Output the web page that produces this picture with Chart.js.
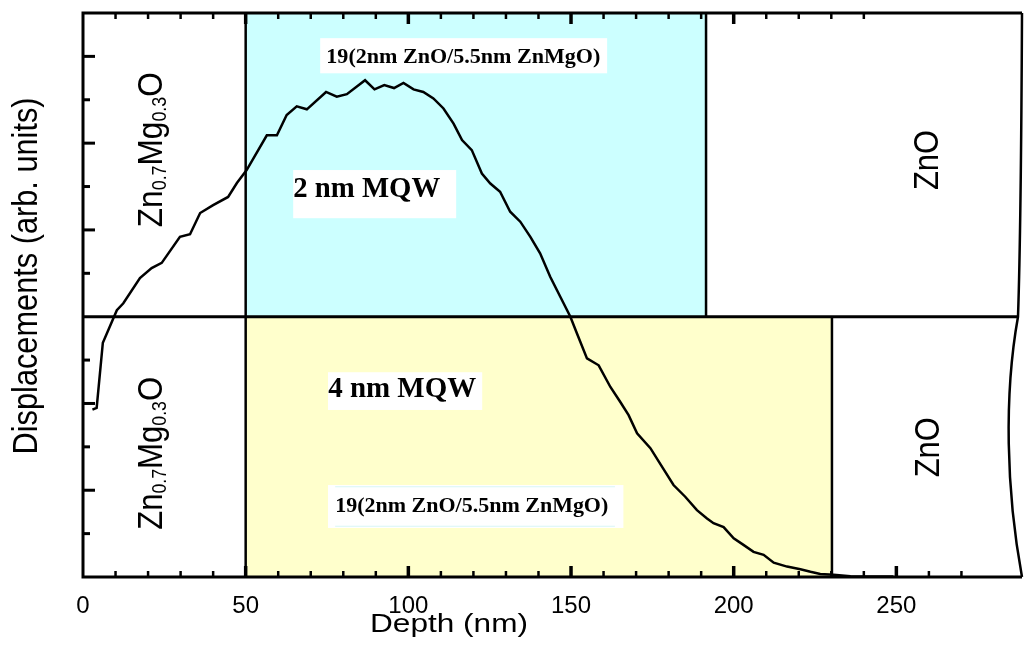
<!DOCTYPE html>
<html>
<head>
<meta charset="utf-8">
<script src="https://cdn.jsdelivr.net/npm/chart.js@4.4.1/dist/chart.umd.min.js"></script>
<style>
  html, body { margin: 0; padding: 0; background: #fff; }
</style>
</head>
<body>
<canvas id="myChart" width="1024" height="660"></canvas>
<script>
// displacement profile, depth in nm
const depth = [2.9, 4.2, 6.1, 10.4, 12.4, 17.5, 21.1, 24.2, 29.8, 32.9, 36.0, 40.0, 44.6, 47.3,
  50.3, 56.5, 59.6, 62.6, 65.7, 68.8, 74.7, 78.0, 81.1, 86.7, 89.6, 92.6, 95.6, 98.5, 101.6,
  104.6, 107.7, 110.8, 113.9, 116.5, 119.5, 122.6, 125.2, 128.2, 131.3, 134.4, 137.5, 140.5,
  143.6, 146.7, 149.8, 151.8, 154.9, 158.5, 162.1, 165.1, 167.7, 170.3, 174.4, 178.0, 181.5,
  185.1, 188.7, 191.8, 193.8, 196.9, 200.0, 203.0, 206.1, 209.2, 212.3, 216.4, 220.5, 223.6,
  226.6, 230.7, 235.9, 249.1];
const displacement = [3.86, 3.90, 5.40, 6.15, 6.31, 6.89, 7.12, 7.24, 7.84, 7.90, 8.39, 8.57, 8.76, 9.08,
  9.38, 10.18, 10.18, 10.65, 10.85, 10.78, 11.18, 11.07, 11.13, 11.45, 11.24, 11.34, 11.27, 11.39, 11.24,
  11.18, 11.03, 10.80, 10.45, 10.07, 9.84, 9.30, 9.07, 8.88, 8.42, 8.19, 7.84, 7.46,
  6.92, 6.46, 6.00, 5.62, 5.04, 4.88, 4.38, 4.04, 3.73, 3.31, 2.97, 2.54, 2.12,
  1.85, 1.54, 1.35, 1.24, 1.15, 0.89, 0.74, 0.58, 0.51, 0.33, 0.24, 0.18, 0.12,
  0.07, 0.05, 0.02, 0.01];

// layer boundaries (nm) and panel split (arb. units)
const mqwStart = 50;
const mqw2End = 191.5;
const mqw4End = 230.2;
const panelSplit = 6;
const depthMax = 288;
const dispMax = 13;

const xTickStep = 50;
const xTopMinor = [10, 20, 30, 40, 50, 60, 70, 80, 90, 100, 110, 120, 130, 140, 150, 160, 170, 180, 190, 200, 210, 220, 230, 240];
const xBottomMinor = [10, 20, 30, 40, 50, 60, 70, 80, 90, 100, 110, 120, 130, 140, 150, 160, 170, 180, 190, 200, 210, 220, 230, 240, 250, 260, 270];
const yTicks = [1, 2, 3, 4, 5, 7, 8, 9, 10, 11, 12];

const SANS = '"Liberation Sans", Arial, sans-serif';
const SERIF = '"Liberation Serif", "Times New Roman", serif';

// draw a run of text pieces centred on the origin, stretched to a given length
function drawRich(ctx, parts, family, weight, target, thick) {
  let w = 0;
  parts.forEach(p => {
    ctx.font = `${weight} ${p.size}px ${family}`;
    p.w = ctx.measureText(p.t).width;
    w += p.w;
  });
  ctx.scale(target / w, thick);
  ctx.textAlign = 'left';
  ctx.textBaseline = 'alphabetic';
  let cx = -w / 2;
  parts.forEach(p => {
    ctx.font = `${weight} ${p.size}px ${family}`;
    ctx.fillText(p.t, cx, p.dy || 0);
    cx += p.w;
  });
}

const zmo = () => [
  {t: 'Zn', size: 30}, {t: '0.7', size: 17, dy: 3},
  {t: 'Mg', size: 30}, {t: '0.3', size: 17, dy: 3}, {t: 'O', size: 30}
];

const layers = {
  id: 'layers',
  beforeDatasetsDraw(chart) {
    const {ctx, scales: {x, y}} = chart;
    const px = v => x.getPixelForValue(v), py = v => y.getPixelForValue(v);
    ctx.save();
    ctx.fillStyle = '#ccffff';
    ctx.fillRect(px(mqwStart), py(dispMax), px(mqw2End) - px(mqwStart), py(panelSplit) - py(dispMax));
    ctx.fillStyle = '#ffffcc';
    ctx.fillRect(px(mqwStart), py(panelSplit), px(mqw4End) - px(mqwStart), py(0) - py(panelSplit));

    // white label boxes
    ctx.fillStyle = '#ffffff';
    [[72.9, 161.1, 12.42, 11.61], [64.6, 114.7, 9.38, 8.27],
     [75.3, 122.7, 4.72, 3.85], [75.3, 166.1, 2.12, 1.13]].forEach(b => {
      ctx.fillRect(px(b[0]), py(b[2]), px(b[1]) - px(b[0]), py(b[3]) - py(b[2]));
    });
    ctx.strokeStyle = '#d8f6f6';
    ctx.lineWidth = 1;
    ctx.beginPath();
    ctx.moveTo(px(77.5), py(2.08)); ctx.lineTo(px(163.5), py(2.08));
    ctx.moveTo(px(77.5), py(1.17)); ctx.lineTo(px(163.5), py(1.17));
    ctx.stroke();
    ctx.restore();
  },
  afterDatasetsDraw(chart) {
    const {ctx, chartArea: a, scales: {x, y}} = chart;
    const px = v => x.getPixelForValue(v), py = v => y.getPixelForValue(v);
    ctx.save();
    ctx.strokeStyle = '#000';
    ctx.lineCap = 'butt';

    // interfaces
    ctx.lineWidth = 2.5;
    ctx.beginPath();
    ctx.moveTo(px(mqwStart), a.top); ctx.lineTo(px(mqwStart), a.bottom);
    ctx.moveTo(px(mqw2End), py(dispMax)); ctx.lineTo(px(mqw2End), py(panelSplit));
    ctx.moveTo(px(mqw4End), py(panelSplit)); ctx.lineTo(px(mqw4End), py(0));
    ctx.stroke();

    // frame
    ctx.lineWidth = 3;
    ctx.beginPath();
    ctx.moveTo(a.right + 2, a.top); ctx.lineTo(a.left, a.top);
    ctx.lineTo(a.left, a.bottom); ctx.lineTo(a.right + 2, a.bottom);
    ctx.moveTo(a.left, py(panelSplit)); ctx.lineTo(a.right - 2, py(panelSplit));
    ctx.stroke();
    // broken right edge
    ctx.lineWidth = 2.5;
    ctx.beginPath();
    ctx.moveTo(a.right + 2, a.top);
    ctx.quadraticCurveTo(a.right + 1, py(8), a.right - 2, py(panelSplit));
    ctx.bezierCurveTo(a.right - 16, py(4.2), a.right - 14, py(2), a.right + 2, a.bottom);
    ctx.stroke();

    // inward ticks
    xBottomMinor.forEach(v => {
      const major = v % xTickStep === 0;
      ctx.lineWidth = major ? 3.5 : 2.5;
      ctx.beginPath();
      ctx.moveTo(px(v), a.bottom); ctx.lineTo(px(v), a.bottom - (major ? 11 : 6));
      ctx.stroke();
    });
    xTopMinor.forEach(v => {
      const major = v % xTickStep === 0;
      ctx.lineWidth = major ? 3.5 : 2.5;
      ctx.beginPath();
      ctx.moveTo(px(v), a.top); ctx.lineTo(px(v), a.top + (major ? 11 : 6));
      ctx.stroke();
    });
    yTicks.forEach(v => {
      const major = v % 2 === 0;
      ctx.lineWidth = 3;
      ctx.beginPath();
      ctx.moveTo(a.left, py(v)); ctx.lineTo(a.left + (major ? 12 : 7), py(v));
      ctx.stroke();
    });

    ctx.fillStyle = '#000';
    // rotated layer names
    [[24.4, 9.85, zmo(), 155], [24.4, 2.85, zmo(), 153],
     [262.9, 9.61, [{t: 'ZnO', size: 30}], 60], [263.1, 2.99, [{t: 'ZnO', size: 30}], 60]].forEach(l => {
      ctx.save();
      ctx.translate(px(l[0]), py(l[1]));
      ctx.rotate(-Math.PI / 2);
      drawRich(ctx, l[2], SANS, 'normal', l[3], 1.17);
      ctx.restore();
    });

    // bold serif notes
    [[116.9, 11.85, '19(2nm ZnO/5.5nm ZnMgO)', 20, 274],
     [87.2, 8.76, '2 nm MQW', 29, 147],
     [98.1, 4.14, '4 nm MQW', 29, 148],
     [119.5, 1.49, '19(2nm ZnO/5.5nm ZnMgO)', 20, 273]].forEach(n => {
      ctx.save();
      ctx.translate(px(n[0]), py(n[1]));
      drawRich(ctx, [{t: n[2], size: n[3]}], SERIF, 'bold', n[4], 1);
      ctx.restore();
    });

    // axis titles
    ctx.save();
    ctx.translate(px(112.5), 632);
    drawRich(ctx, [{t: 'Depth (nm)', size: 26}], SANS, 'normal', 158, 1);
    ctx.restore();
    ctx.save();
    ctx.translate(37, py(6.94));
    ctx.rotate(-Math.PI / 2);
    drawRich(ctx, [{t: 'Displacements (arb. units)', size: 30}], SANS, 'normal', 357, 1.15);
    ctx.restore();

    ctx.restore();
  }
};

const data = {
  datasets: [{
    label: 'Displacements',
    data: depth.map((d, i) => ({x: d, y: displacement[i]})),
    borderColor: '#000',
    borderWidth: 2.5,
    pointRadius: 0,
    tension: 0,
    fill: false,
  }]
};

const config = {
  type: 'line',
  data: data,
  options: {
    responsive: false,
    animation: false,
    devicePixelRatio: 1,
    layout: { padding: { top: 13, right: 4, left: 0, bottom: 0 } },
    plugins: { legend: { display: false }, tooltip: { enabled: false } },
    scales: {
      x: {
        type: 'linear',
        min: 0,
        max: depthMax,
        afterFit: s => { s.height = 83; },
        grid: { display: false },
        border: { display: false },
        ticks: {
          stepSize: xTickStep,
          includeBounds: false,
          maxRotation: 0,
          padding: 7,
          color: '#000',
          font: { family: SANS, size: 24 },
        },
      },
      y: {
        min: 0,
        max: dispMax,
        afterFit: s => { s.width = 83; },
        grid: { display: false },
        border: { display: false },
        ticks: { display: false },
      },
    },
  },
  plugins: [layers],
};

const myChart = new Chart(document.getElementById('myChart'), config);
</script>
</body>
</html>
